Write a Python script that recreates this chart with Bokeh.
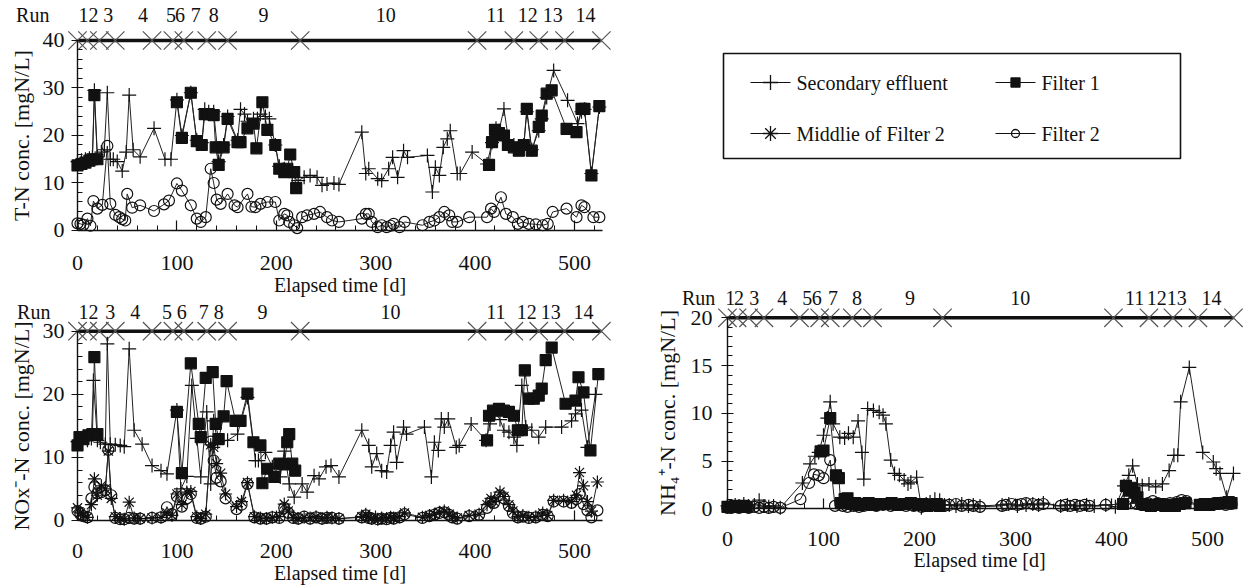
import numpy as np
from bokeh.plotting import figure
from bokeh.layouts import row, column
from bokeh.models import Range1d, LinearAxis, SingleIntervalTicker
from bokeh.embed import file_html
from bokeh.resources import INLINE
from bokeh.core.properties import value

NaN = float("nan")
FONT = "Liberation Serif"

# ---------------- run boundaries / labels ----------------
run_bounds = [0, 10, 22, 38, 75, 96, 107, 130, 151, 224, 402, 439, 464, 490, 527]
run_names = ["Run", "1", "2", "3", "4", "5", "6", "7", "8", "9", "10", "11", "12", "13", "14"]
run_lab_tn = [-45, 6, 16, 31, 66, 94, 103, 119, 137, 187, 310, 421, 453, 478, 511]
run_lab_nox = [-44, 6, 16, 33, 58, 90, 105, 127, 142, 186, 315, 421, 452, 476, 509]
run_lab_nh4 = [-30, 3, 12, 28, 57, 83, 93, 110, 135, 190, 305, 424, 447, 468, 504]

# ---------------- T-N ----------------
tn_eff_d = [0, 4, 8, 12, 15, 17, 20, 24, 27, 30, 33, 36, 40, 45, 49, 52, 56, 63, 77, 88, 94,
            100, 105, 114, 120, 125, 128, 132, 137, 142, 147, 151, 161, 164, 168, 171, 177, 181,
            184, 189, 193, 199, 203, 208, 212, 216, 222, 228, 234, 241, 246, 251, 258, 263, 286,
            290, 293, 302, 306, 313, 317, 322, 328, 332, 352, 357, 360, 364, 368, 372, 375, 382,
            385, 397, 412, 417, 421, 424, 429, 434, 439, 444, 449, 452, 457, 464, 467, 472, 479,
            493, 503, 507, 510, 517, 525]
tn_eff = [14.5, 14.8, 15, 15.2, 15.5, 29.5, 15.5, 16.5, 17, 29, 15, 15, 14.5, 12.5, 16.5, 28.5, 17,
          15.5, 21.5, 15, 15, 27.5, 20, 29, 19, 18.5, 25.5, 25, 25, 14.5, 18, 24, 19, 25.5, 24.5,
          23, 23.5, 23.5, 24.5, 24, 23.5, 18, 13.5, 13, 12.5, 11.5, 10.5, 11.2, 11.6, 11.2, 9.5,
          9.8, 10, 9.7, 20.7, 12, 13, 10.9, 10.5, 13, 15.4, 11.2, 16.8, 15.4, 15.8, 8.1, 13.3,
          11.6, 17.5, 19.3, 21, 12, 12, 16.5, 14, 18.5, 21.5, 21, 25.6, 18.5, 18, 17.5, 18, 25,
          17, 21, 23.5, 28, 33.7, 27.4, 22.5, 25, 25.5, 12, 26]

tn_f1_d = [0, 4, 8, 12, 15, 17, 20, NaN, 100, 105, 114, 120, 125, 128, 132, 137, 139, 142, 147,
           151, 161, 164, 171, 177, 180, 186, 191, 199, 203, 208, 211, 214, 218, 220, NaN, 414,
           417, 420, 424, 429, 433, 439, 444, 449, 452, 457, 464, 467, 472, 477, 492, 502, 507,
           510, 517, 525]
tn_f1 = [13.7, 14, 14.3, 14.7, 15, 28.5, 15, NaN, 27, 19.5, 29, 18.8, 18, 24.5, 24.5, 24.3, 17.5,
         13.8, 17.5, 23.5, 18.6, 18.6, 21.5, 22.5, 17.3, 27, 21.2, 18, 13, 12.3, 13, 16, 12.3, 8.9,
         NaN, 13.8, 18.6, 21.2, 20.5, 20, 18, 17.5, 16.8, 18, 25.6, 16.8, 21.8, 24.2, 28.8, 29.5,
         21.4, 20.7, 25.6, 25.6, 11.6, 26.2]

tn_f2_d = [0, 3, 6, 10, 13, 16, 20, 25, 30, 33, 38, 42, 45, 48, 50, 55, 63, 77, 87, 92, 100, 105,
           114, 120, 124, 129, 134, 137, 140, 144, 151, 158, 161, 171, 175, 179, 184, 191, 199,
           203, 208, 211, 213, 218, 221, 226, 231, 238, 244, 251, 256, 263, 286, 290, 293, 296,
           302, 306, 311, 315, 318, 324, 329, 347, 354, 359, 364, 369, 374, 377, 382, 394, 412,
           416, 419, 426, 431, 438, 443, 448, 454, 461, 468, 473, 478, 492, 502, 507, 510, 519, 525]
tn_f2 = [1.5, 1.4, 1.2, 2.5, 1.0, 6.2, 4.6, 5.4, 17.8, 5.6, 3.3, 2.8, 2.4, 2.1, 7.7, 4.8, 5.3, 4.1,
         5.5, 6.3, 9.9, 8.4, 5.3, 2.5, 1.8, 2.8, 13, 10, 6.5, 5.6, 7.7, 5.3, 4.9, 7.7, 5, 4.9, 5.6,
         6, 6, 2.1, 3.5, 3.2, 1.8, 1.1, 0.5, 2.8, 3.2, 3.5, 3.9, 2.8, 2.1, 1.8, 2.5, 3.5, 3.5, 1.8,
         0.7, 1.1, 0.7, 1.0, 1.4, 0.7, 1.8, 1.1, 1.8, 2.1, 2.8, 3.9, 3.2, 1.8, 1.8, 2.8, 2.8, 4.6,
         3.9, 7, 3.5, 2.8, 1.4, 1.8, 1.4, 1.3, 1.1, 1.4, 3.9, 4.6, 2.8, 5.3, 4.9, 2.8, 2.8]

# ---------------- NOx-N ----------------
nox_eff_d = [0, 5, 10, 14, 16, 20, 23, 28, 30, 33, 38, 43, 47, 52, 57, 65, 75, 84, 90, 100, 104,
             110, 115, 120, 124, 130, 134, 137, 141, 151, 161, 171, 179, 182, 189, 196, 204, 208,
             213, 218, 226, 231, 238, 243, 250, 255, 263, 286, 293, 296, 301, 306, 311, 315, 318,
             321, 328, 331, 349, 356, 359, 363, 366, 369, 373, 381, 384, 396, 411, 415, 420, 425,
             429, 434, 439, 442, 447, 451, 457, 464, 471, 487, 497, 501, 507, 513, 521]
nox_eff = [12.5, 12.8, 12.7, 13, 22.2, 12.7, 12.4, 12.1, 28, 12.1, 12, 11.9, 11.7, 27.2, 14.3,
           12.1, 8.7, 7.9, 7.4, 17.5, 5, 7, 21.4, 13, 6.9, 17.2, 5.8, 15.8, 12.4, 12.7, 13.7, 19.5,
           9.5, 9.5, 10.8, 8.5, 6.9, 11, 5.8, 3.7, 5.8, 4.5, 7.1, 6.6, 8.5, 8.7, 6.9, 14.3, 11.9,
           8.5, 10.6, 7.9, 7.7, 11.9, 14, 9.2, 14.8, 13.7, 14.8, 6.9, 12.4, 11.1, 16.1, 14.8, 16.1,
           11.6, 11.9, 15.3, 12.7, 15.3, 17, 16, 14.3, 14, 13.2, 11.9, 21.4, 14.8, 14.3, 13.2,
           14.8, 14.8, 15.8, 16.9, 17.5, 11.6, 20]

nox_f1_d = [0, 2, 6, 11, 15, 17, 20, NaN, 100, 105, 114, 122, 124, 129, 136, 139, 142, 147, 150,
            159, 164, 171, 177, 184, 186, 191, 198, 203, 208, 211, 213, 216, 219, NaN, 412, 414,
            418, 424, 429, 434, 439, 443, 447, 450, 454, 459, 464, 467, 471, 477, 491, 501, 504,
            509, 516, 524]
nox_f1 = [11.9, 13.2, 12.9, 13.5, 13.7, 25.9, 13.7, NaN, 17.2, 7.5, 24.9, 15.3, 13.2, 22.6, 23.5,
          15.3, 12.9, 16.5, 22.1, 15.8, 15.8, 20.1, 12.4, 11.9, 5.9, 8.2, 6.9, 9, 8.9, 12.4, 13.7,
          9, 7.9, NaN, 12.7, 16.6, 17.4, 17.7, 17.4, 17.2, 16.6, 14.3, 14.3, 23.8, 19.3, 19.3,
          19.8, 20.9, 25.4, 27.4, 18.5, 19, 22.7, 20.3, 11.1, 23.2]

nox_mid_d = [0, 3, 6, 10, 14, 17, 20, 24, 28, 31, 34, 38, 43, 47, 52, 57, 63, 75, 84, 90, 95,
             100, 105, 110, 114, 120, 124, 129, 134, 137, 140, 144, 149, 160, 165, 171, 178, 184,
             190, 196, 203, 208, 212, 217, 222, 228, 234, 240, 246, 251, 256, 263, 286, 290, 293,
             296, 302, 306, 311, 315, 318, 324, 329, 347, 354, 359, 364, 369, 374, 377, 382, 394,
             404, 412, 416, 419, 425, 429, 434, 438, 443, 448, 454, 461, 468, 473, 479, 489, 497,
             502, 505, 509, 513, 517, 523]
nox_mid = [2, 1.2, 0.8, 0.5, 2.5, 6.6, 4, 5.5, 5, 11, 3.5, 0.6, 0.3, 0.2, 2.9, 0.4, 0.3, 0.4,
           0.5, 1.2, 0.8, 4.2, 2.5, 4.5, 4.6, 0.6, 0.3, 1, 12, 11.6, 9, 7.5, 4.2, 2.2, 3, 6, 0.6,
           0.4, 0.3, 0.5, 0.6, 2.6, 1.5, 0.5, 0.3, 0.5, 0.4, 0.6, 0.3, 0.5, 0.4, 0.3, 0.6, 1, 0.5,
           0.3, 0.2, 0.4, 0.3, 0.5, 0.4, 0.6, 1.2, 0.5, 0.8, 1, 1.3, 1.5, 1, 0.6, 0.4, 0.8, 1, 2.5,
           3.5, 3, 4.5, 3.8, 2.5, 1.5, 0.6, 0.8, 0.5, 0.6, 1.2, 0.8, 3.2, 3.2, 3, 4, 7.6, 5.5, 3,
           1.5, 6.1]

nox_f2_d = [0, 3, 6, 10, 14, 17, 20, 24, 28, 31, 34, 38, 43, 47, 52, 57, 63, 75, 84, 90, 95,
            100, 105, 110, 114, 120, 124, 129, 134, 137, 140, 144, 149, 160, 165, 171, 178, 184,
            190, 196, 203, 208, 212, 217, 222, 228, 234, 240, 246, 251, 256, 263, 286, 290, 293,
            296, 302, 306, 311, 315, 318, 324, 329, 347, 354, 359, 364, 369, 374, 377, 382, 394,
            404, 412, 416, 419, 425, 429, 434, 438, 443, 448, 454, 461, 468, 473, 479, 489, 497,
            502, 505, 509, 513, 517, 523]
nox_f2 = [1.5, 1, 0.7, 0.5, 3.5, 5.3, 4.3, 4.5, 4.8, 11.2, 4, 0.4, 0.2, 0.2, 0.4, 0.3, 0.3, 0.4,
          0.5, 2.1, 1, 3.8, 2.2, 3.5, 4.2, 0.4, 0.3, 0.6, 12.5, 9.5, 6.8, 6.2, 3.5, 1.8, 2.5, 5.8,
          0.5, 0.3, 0.3, 0.5, 0.4, 2, 1.2, 0.4, 0.3, 0.6, 0.3, 0.5, 0.3, 0.4, 0.4, 0.3, 0.5, 0.8,
          0.4, 0.3, 0.2, 0.3, 0.2, 0.4, 0.3, 0.5, 1, 0.4, 0.7, 0.9, 1.2, 1.3, 0.9, 0.5, 0.3, 0.7,
          0.9, 2, 3, 2.8, 4, 3.5, 2.3, 1.2, 0.5, 0.6, 0.4, 0.5, 0.9, 0.7, 3, 3, 2.8, 3.4, 4.2,
          2.6, 1.6, 0.5, 1.6]

# ---------------- NH4-N ----------------
nh4_eff_d = [0, 4, 8, 12, 17, 22, 28, 33, 38, 43, 48, 55, 78, 86, 91, 95, 100, 104, 107, 110,
             117, 122, 126, 131, 136, 140, 142, 146, 152, 158, 162, 165, 170, 174, 179, 184, 188,
             191, 197, 202, 207, 211, 216, 221, 226, 231, 238, 244, 251, 256, 263, 286, 293, 302,
             311, 318, 324, 329, 347, 354, 364, 374, 382, 394, 404, 413, 418, 422, 427, 432, 439,
             446, 453, 460, 465, 469, 472, 481, 495, 506, 509, 513, 520, 527]
nh4_eff = [0.3, 0.2, 0.4, 0.3, 0.5, 0.3, 0.4, 0.9, 0.3, 0.2, 0.3, 0.1, 2.7, 4.7, 5.5, 5.9, 7.7,
           9.5, 11.2, 8.9, 7.5, 7.4, 7.9, 7.5, 9.2, 5.9, 3.1, 10.5, 10.3, 10.1, 9.8, 8.9, 5.1, 3.7,
           3.5, 3, 2.6, 2.8, 3.3, 0.1, 0.5, 0.7, 1, 0.9, 0.4, 0.4, 0.3, 0.5, 0.3, 0.4, 0.3, 0.4,
           0.5, 0.3, 0.4, 0.5, 0.4, 0.6, 0.3, 0.4, 0.3, 0.4, 0.3, 0.4, 0.2, 2.4, 3.5, 4.5, 2.6,
           2.4, 2.6, 2.3, 2.6, 4, 5.6, 5.6, 11.2, 14.8, 5.9, 4.9, 4.2, 3.7, 1.2, 3.7]

nh4_f1_d = [0, 4, 8, 12, 17, 20, NaN, 97, 100, 107, 113, 116, 118, 122, 125, 129, 133, 137, 142,
            147, 151, 158, 164, 171, 177, 184, 191, 198, 203, 208, 213, 218, 221, NaN, 412, 415,
            418, 421, 424, 427, 432, 436, 441, 446, 451, 456, 461, 466, 471, 477, 492, 497, 502,
            507, 512, 517, 522, 525]
nh4_f1 = [0.2, 0.2, 0.3, 0.2, 0.3, 0.2, NaN, 6, 6.1, 9.5, 3.5, 3.2, 0.6, 1, 1.1, 0.5, 0.6, 0.4,
          0.5, 0.6, 0.4, 0.5, 0.5, 0.6, 0.4, 0.5, 0.6, 0.4, 0.5, 0.3, 0.4, 0.5, 0.3, NaN, 0.5,
          2.4, 1.9, 2.2, 1.7, 1.2, 0.5, 0.4, 0.3, 0.4, 0.5, 0.3, 0.4, 0.3, 0.5, 0.6, 0.4, 0.5,
          0.4, 0.5, 0.6, 0.6, 0.7, 0.6]

nh4_f2_d = [0, 4, 8, 12, 17, 22, 28, 33, 38, 43, 48, 55, 76, 85, 90, 95, 100, 107, 112, 120,
            125, 131, 137, 142, 148, 155, 162, 170, 178, 186, 194, 202, 210, 218, 226, 231, 238,
            244, 251, 256, 263, 286, 290, 296, 302, 306, 311, 318, 324, 329, 347, 352, 357, 362,
            367, 372, 377, 394, 412, 416, 420, 426, 431, 438, 443, 448, 454, 461, 468, 473, 478,
            492, 502, 507, 512, 519, 525]
nh4_f2 = [0.1, 0.1, 0.2, 0.1, 0.2, 0.1, 0.2, 0.1, 0.2, 0.1, 0.2, 0.1, 1.0, 2.7, 3.6, 3.5, 3.2,
          5.1, 0.3, 0.3, 0.2, 0.3, 0.2, 0.3, 0.4, 0.3, 0.4, 0.3, 0.4, 0.3, 0.3, 0.2, 0.4, 0.3,
          0.3, 0.4, 0.5, 0.3, 0.4, 0.3, 0.2, 0.3, 0.4, 0.5, 0.4, 0.5, 0.6, 0.5, 0.4, 0.5, 0.3,
          0.4, 0.3, 0.4, 0.3, 0.4, 0.3, 0.4, 0.5, 1.0, 0.6, 0.5, 0.4, 0.6, 0.8, 0.6, 0.5, 0.6,
          0.7, 0.9, 0.8, 0.4, 0.5, 0.6, 0.5, 0.4, 0.5]

legend_labels = ["Secondary effluent", "Filter 1", "Middlie of Filter 2", "Filter 2"]

INK = "#111111"
LINE = "#222222"


def style_axis(ax, label_size, tick_size, is_x):
    ax.axis_line_color = INK
    ax.axis_line_width = 1.4
    ax.major_tick_line_color = INK
    ax.minor_tick_line_color = INK
    ax.major_tick_line_width = 1.2
    ax.minor_tick_line_width = 1.0
    ax.major_label_text_font = FONT
    ax.major_label_text_font_size = tick_size
    ax.major_label_text_color = INK
    ax.axis_label_text_font = FONT
    ax.axis_label_text_font_size = label_size
    ax.axis_label_text_font_style = "normal"
    ax.axis_label_text_color = INK
    if is_x:
        ax.major_tick_in = 10
        ax.major_tick_out = 0
        ax.minor_tick_in = 5
        ax.minor_tick_out = 0
    else:
        ax.major_tick_in = 6
        ax.major_tick_out = 6
        ax.minor_tick_in = 5
        ax.minor_tick_out = 0


def panel(width, height, xr, yr, xmax, ymax, ystep, ylabel, xstand, xlstand, ystand, ylstand):
    p = figure(width=width, height=height, x_range=Range1d(*xr), y_range=Range1d(*yr),
               output_backend="svg", toolbar_location=None, x_axis_location=None,
               y_axis_location=None, min_border=0, outline_line_color=None)
    p.grid.visible = False
    xa = LinearAxis(fixed_location=0, bounds=(0, xmax),
                    ticker=SingleIntervalTicker(interval=100, num_minor_ticks=5),
                    axis_label="Elapsed time [d]")
    style_axis(xa, "20px", "22px", True)
    xa.major_label_standoff = xstand
    xa.axis_label_standoff = xlstand
    p.add_layout(xa, "below")
    ya = LinearAxis(fixed_location=0, bounds=(0, ymax),
                    ticker=SingleIntervalTicker(interval=ystep, num_minor_ticks=5),
                    axis_label=ylabel)
    style_axis(ya, "22px", "22px", False)
    ya.major_label_standoff = ystand
    ya.axis_label_standoff = ylstand
    p.add_layout(ya, "left")
    return p


def run_bar(p, ytop, ylab, lab_days):
    p.line([run_bounds[0], run_bounds[-1]], [ytop, ytop], line_color=INK, line_width=3.5)
    p.scatter(run_bounds, [ytop] * len(run_bounds), marker="x", size=26,
              line_color="#555555", line_width=1.2)
    p.text(x=lab_days, y=[ylab] * len(lab_days), text=run_names,
           text_font=value(FONT), text_font_size="20px", text_color=INK,
           text_align="center", text_baseline="middle")


def series(p, d, v, marker, size, fill):
    p.line(d, v, line_color=LINE, line_width=1.0)
    p.scatter(d, v, marker=marker, size=size, line_color=INK, line_width=1.2,
              fill_color=fill)


# ---- top-left: T-N   (page px 0..628 x 0..299)
p1 = panel(628, 299, (-77.46, 554.3), (-14.53, 48.42), 528, 40, 10,
           "T-N conc. [mgN/L]", 26, 0, 7, 6)
run_bar(p1, 40, 45.3, run_lab_tn)
series(p1, tn_eff_d, tn_eff, "cross", 14, None)
series(p1, tn_f2_d, tn_f2, "circle", 11, None)
series(p1, tn_f1_d, tn_f1, "square", 11, INK)

# ---- bottom-left: NOx-N  (page px 0..628 x 299..586)
p2 = panel(628, 287, (-77.46, 554.3), (-10.46, 35.02), 528, 30, 10,
           "NOx\u207b-N conc. [mgN/L]", 24, 0, 7, 6)
run_bar(p2, 30, 33.1, run_lab_nox)
series(p2, nox_eff_d, nox_eff, "cross", 14, None)
series(p2, nox_f2_d, nox_f2, "circle", 11, None)
series(p2, nox_mid_d, nox_mid, "asterisk", 13, None)
series(p2, nox_f1_d, nox_f1, "square", 11, INK)

# ---- bottom-right: NH4-N (page px 628..1244 x 283..586)
p3 = panel(616, 303, (-103.1, 538.5), (-8.14, 23.59), 525, 20, 5,
           "NH\u2084\u207a-N conc. [mgN/L]", 23, 0, 9, 8)
run_bar(p3, 20, 22.1, run_lab_nh4)
series(p3, nh4_eff_d, nh4_eff, "cross", 14, None)
series(p3, nh4_f2_d, nh4_f2, "circle", 11, None)
series(p3, nh4_f1_d, nh4_f1, "square", 11, INK)

# ---- legend panel (page px 628..1244 x 0..283)
pl = figure(width=616, height=283, x_range=Range1d(0, 616), y_range=Range1d(283, 0),
            output_backend="svg", toolbar_location=None, x_axis_location=None,
            y_axis_location=None, min_border=0, outline_line_color=None)
pl.grid.visible = False
pl.quad(left=[95], right=[552], top=[53], bottom=[158], fill_color=None,
        line_color=INK, line_width=1.6)
leg_x = [122, 367, 122, 367]
leg_y = [82, 82, 133, 133]
leg_marker = ["cross", "square", "asterisk", "circle"]
leg_size = [15, 9, 15, 8]
leg_fill = [None, INK, None, None]
for lx, ly, mk, sz, fc in zip(leg_x, leg_y, leg_marker, leg_size, leg_fill):
    pl.line([lx, lx + 40], [ly, ly], line_color=INK, line_width=1.2)
    pl.scatter([lx + 20], [ly], marker=mk, size=sz, line_color=INK, line_width=1.3,
               fill_color=fc)
pl.text(x=[x + 46 for x in leg_x], y=leg_y, text=legend_labels, text_font=value(FONT),
        text_font_size="20px", text_color=INK, text_align="left", text_baseline="middle")

layout = row(column(p1, p2), column(pl, p3))
open("out.html", "w").write(file_html(layout, INLINE))
